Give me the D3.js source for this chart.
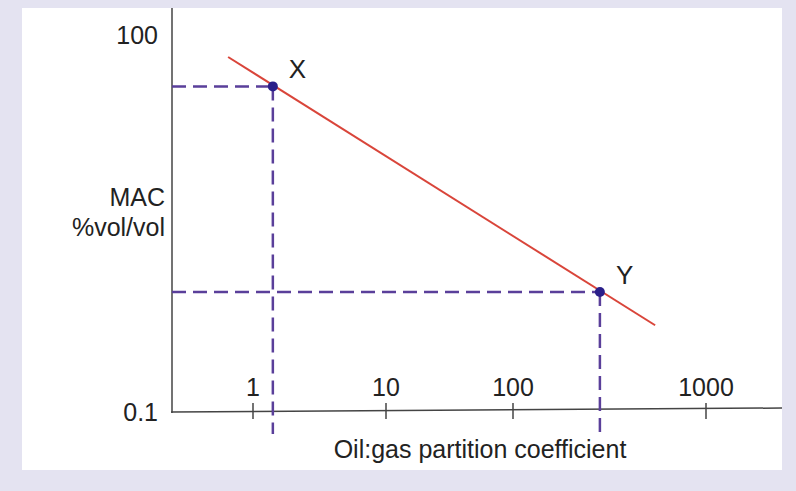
<!DOCTYPE html>
<html><head><meta charset="utf-8">
<script src="https://cdn.jsdelivr.net/npm/d3@7"></script>
<style>body{margin:0;background:#e4e3f1}</style>
</head><body><div class="canvas"></div>
<script>
const xTicks = [1, 10, 100, 1000]
const yTicks = [0.1, 100]
const lineX = [0.65, 545]
const lineY = [66.8, 0.49]
const pointNames = ['X', 'Y']
const pointX = [1.41, 282]
const pointY = [39, 0.9]

const svg = d3.select('.canvas').append('svg')
  .attr('width', 796)
  .attr('height', 491)
  .style('font-family', 'Liberation Sans, Arial, sans-serif')

svg.append('rect').attr('x', 22).attr('y', 8).attr('width', 760).attr('height', 462).attr('fill', '#fff')

// uneven tick spacing in the original drawing
const x = d3.scaleLog().domain(xTicks).range([253, 386, 513, 706])
const y = d3.scaleLog().domain([0.1, 100]).range([412, 35])

const ax = svg.append('g').attr('stroke', '#444').attr('stroke-width', 1.5)
ax.append('line').attr('x1', 172).attr('x2', 172).attr('y1', 8).attr('y2', 413)
ax.append('line').attr('x1', 171).attr('x2', 782).attr('y1', 412).attr('y2', 408)
ax.selectAll('.t').data(xTicks).enter().append('line')
  .attr('x1', d => x(d)).attr('x2', d => x(d))
  .attr('y1', 403).attr('y2', 419)

svg.selectAll('.xl').data(xTicks).enter().append('text')
  .attr('x', d => x(d)).attr('y', 396).attr('text-anchor', 'middle')
  .attr('font-size', 25).attr('fill', '#222').text(d => d)
svg.selectAll('.yl').data(yTicks).enter().append('text')
  .attr('x', 158).attr('y', d => y(d) + 9).attr('text-anchor', 'end')
  .attr('font-size', 25).attr('fill', '#222').text(d => d)

svg.append('text').attr('x', 480).attr('y', 458).attr('text-anchor', 'middle')
  .attr('font-size', 25).attr('fill', '#222').text('Oil:gas partition coefficient')
svg.append('text').attr('x', 165).attr('y', 206).attr('text-anchor', 'end')
  .attr('font-size', 25).attr('fill', '#222').text('MAC')
svg.append('text').attr('x', 165).attr('y', 236).attr('text-anchor', 'end')
  .attr('font-size', 25).attr('fill', '#222').text('%vol/vol')

// dashed guides
const dash = svg.append('g').attr('stroke', '#5a3f9a').attr('stroke-width', 2.5).attr('stroke-dasharray', '14,7')
pointX.forEach((px, i) => {
  dash.append('line').attr('x1', 172).attr('x2', x(px)).attr('y1', y(pointY[i])).attr('y2', y(pointY[i]))
  dash.append('line').attr('x1', x(px)).attr('x2', x(px)).attr('y1', y(pointY[i])).attr('y2', 434)
})

svg.append('line')
  .attr('x1', x(lineX[0])).attr('y1', y(lineY[0]))
  .attr('x2', x(lineX[1])).attr('y2', y(lineY[1]))
  .attr('stroke', '#d9453a').attr('stroke-width', 2)

svg.selectAll('.p').data(pointX).enter().append('circle')
  .attr('cx', d => x(d)).attr('cy', (d, i) => y(pointY[i])).attr('r', 5).attr('fill', '#2a1f8a')
svg.selectAll('.pl').data(pointX).enter().append('text')
  .attr('x', d => x(d) + 16).attr('y', (d, i) => y(pointY[i]) - 8)
  .attr('font-size', 26).attr('fill', '#222').text((d, i) => pointNames[i])
</script></body></html>
